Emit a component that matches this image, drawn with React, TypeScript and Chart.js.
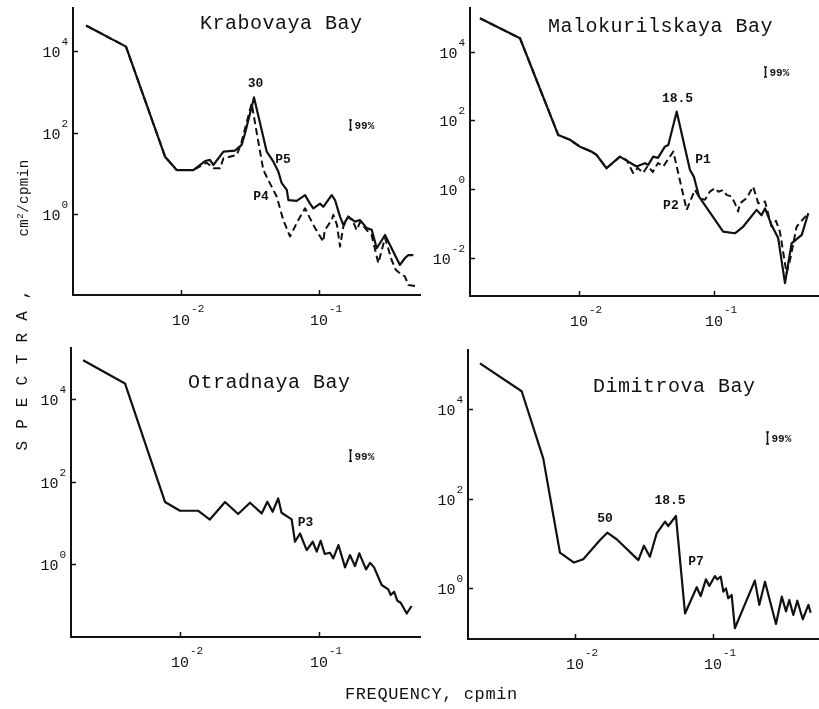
import React, { useEffect, useRef } from "react";
import { Chart, registerables } from "chart.js";

Chart.register(...registerables);

// ---------------- DATA ----------------
// Krabovaya Bay
const krabFreqP5 = [0.00205, 0.00399, 0.00766, 0.0093, 0.01227, 0.01494, 0.0162, 0.01714, 0.0203, 0.0246, 0.0275, 0.0291, 0.0338, 0.0374, 0.0418, 0.0467, 0.0507, 0.0537, 0.0584, 0.060, 0.0689, 0.0792, 0.0861, 0.091, 0.1017, 0.1074, 0.1236, 0.1306, 0.142, 0.150, 0.163, 0.182, 0.198, 0.222, 0.241, 0.262, 0.277, 0.301, 0.327, 0.355, 0.386, 0.42, 0.444, 0.483];
const krabSpecP5 = [42600, 12900, 25.6, 12.0, 12.0, 20.0, 21.3, 16.0, 34, 36, 50, 96, 730, 170, 34, 19.3, 11, 5.7, 3.9, 2.2, 2.1, 2.9, 1.8, 1.38, 1.8, 1.5, 2.9, 2.2, 0.86, 0.54, 0.86, 0.65, 0.71, 0.45, 0.41, 0.144, 0.194, 0.305, 0.174, 0.098, 0.056, 0.083, 0.098, 0.098];
const krabFreqP4 = [0.00205, 0.00399, 0.00766, 0.0093, 0.01227, 0.01535, 0.01714, 0.0192, 0.0203, 0.0254, 0.0275, 0.0325, 0.0363, 0.0395, 0.0429, 0.0493, 0.0551, 0.0616, 0.0708, 0.0792, 0.0861, 0.0936, 0.1074, 0.110, 0.1236, 0.127, 0.135, 0.142, 0.150, 0.163, 0.177, 0.188, 0.198, 0.222, 0.241, 0.269, 0.301, 0.336, 0.361, 0.386, 0.42, 0.444, 0.497];
const krabSpecP4 = [42600, 12900, 25.6, 12.0, 12.0, 18.2, 13.3, 13.3, 23.4, 28.2, 60, 520, 60, 12, 6.8, 2.7, 0.71, 0.28, 0.71, 1.38, 0.78, 0.45, 0.21, 0.40, 0.71, 0.95, 0.54, 0.158, 0.49, 0.86, 0.63, 0.40, 0.63, 0.40, 0.30, 0.062, 0.26, 0.074, 0.042, 0.035, 0.029, 0.018, 0.017];

// Malokurilskaya Bay
const maloFreqP1 = [0.00185, 0.00366, 0.00703, 0.00858, 0.01017, 0.0124, 0.0135, 0.016, 0.0201, 0.0267, 0.0308, 0.0326, 0.0355, 0.0385, 0.0433, 0.0459, 0.053, 0.0664, 0.0712, 0.0775, 0.117, 0.143, 0.165, 0.207, 0.225, 0.239, 0.267, 0.299, 0.336, 0.376, 0.447, 0.50];
const maloSpecP1 = [93000, 24500, 37, 27, 17, 12.2, 9.8, 4.0, 8.7, 4.5, 5.6, 5.0, 8.7, 8.0, 17, 19, 178, 3.6, 2.2, 0.60, 0.057, 0.051, 0.080, 0.245, 0.17, 0.27, 0.089, 0.037, 0.0018, 0.026, 0.046, 0.195];
const maloFreqP2 = [0.00185, 0.00366, 0.00703, 0.00858, 0.01017, 0.0124, 0.0135, 0.016, 0.0201, 0.0225, 0.0252, 0.0273, 0.0298, 0.0324, 0.0353, 0.0385, 0.0421, 0.050, 0.0628, 0.0723, 0.0787, 0.0857, 0.0933, 0.1017, 0.1076, 0.117, 0.124, 0.135, 0.143, 0.151, 0.156, 0.175, 0.195, 0.213, 0.239, 0.267, 0.288, 0.308, 0.345, 0.366, 0.41, 0.50];
const maloSpecP2 = [93000, 24500, 37, 27, 17, 12.2, 9.8, 4.0, 8.7, 7.0, 2.9, 4.1, 2.9, 4.7, 3.1, 5.7, 4.5, 12.2, 0.245, 0.94, 0.54, 0.48, 0.83, 1.05, 0.83, 0.93, 0.67, 0.60, 0.38, 0.22, 0.38, 0.54, 1.17, 0.38, 0.43, 0.080, 0.117, 0.057, 0.0035, 0.0085, 0.080, 0.195];

// Otradnaya Bay
const otraFreqP3 = [0.00201, 0.00402, 0.0078, 0.0100, 0.01355, 0.0164, 0.0211, 0.0262, 0.0319, 0.0387, 0.0425, 0.0464, 0.0509, 0.0538, 0.0636, 0.0672, 0.0730, 0.0816, 0.0902, 0.0963, 0.1028, 0.110, 0.120, 0.1267, 0.138, 0.154, 0.167, 0.1815, 0.195, 0.218, 0.233, 0.249, 0.2825, 0.315, 0.328, 0.347, 0.366, 0.387, 0.428, 0.464];
const otraSpecP3 = [88000, 24000, 32, 19.6, 19.6, 12, 32, 16.3, 30.7, 16.9, 32.4, 18.5, 39, 17.5, 12.1, 3.47, 5.5, 2.18, 3.47, 1.99, 3.67, 1.75, 1.88, 1.37, 2.89, 0.83, 1.65, 0.89, 1.82, 0.74, 1.07, 0.83, 0.31, 0.243, 0.177, 0.213, 0.129, 0.115, 0.063, 0.096];

// Dimitrova Bay
const dimiFreqP7 = [0.00205, 0.00411, 0.00589, 0.00778, 0.00984, 0.01148, 0.0152, 0.01714, 0.02004, 0.0288, 0.0316, 0.0349, 0.0391, 0.0449, 0.0474, 0.0539, 0.0627, 0.0762, 0.0814, 0.0889, 0.0940, 0.1033, 0.1074, 0.1137, 0.1188, 0.1242, 0.129, 0.1365, 0.144, 0.201, 0.2165, 0.238, 0.286, 0.315, 0.338, 0.357, 0.382, 0.408, 0.447, 0.491, 0.510];
const dimiSpecP7 = [105000, 25000, 790, 6.2, 3.7, 4.4, 11.8, 17.2, 12.3, 4.2, 8.8, 5.0, 16.7, 30.4, 24.3, 40.6, 0.27, 1.04, 0.66, 1.56, 1.11, 1.85, 1.56, 1.79, 0.83, 0.98, 0.59, 0.70, 0.126, 1.46, 0.42, 1.38, 0.157, 0.64, 0.30, 0.54, 0.25, 0.52, 0.20, 0.42, 0.28];

// tick values
const xTickValues = [0.01, 0.1];
const yTickValuesA = [1, 100, 10000];
const yTickValuesB = [0.01, 1, 100, 10000];

// titles and labels
const titles = ["Krabovaya Bay", "Malokurilskaya Bay", "Otradnaya Bay", "Dimitrova Bay"];
const confText = "99%";

// ---------------- STYLE ----------------
const INK = "#111";
const MONO = '"Liberation Mono", "DejaVu Sans Mono", monospace';

type Series = { freq: number[]; spec: number[]; dashed?: boolean };
type Note = { text: string; x: number; y: number };
type PanelCfg = {
  left: number; top: number; w: number; h: number;
  yw: number; xh: number; padTop: number; padRight: number;
  xMin: number; xMax: number; yMin: number; yMax: number;
  yTicks: number[];
  series: Series[];
  title: Note;
  notes: Note[];
  conf: { x: number; y1: number; y2: number };
};

const panels: PanelCfg[] = [
  {
    left: 0, top: 0, w: 425, h: 330, yw: 73, xh: 35, padTop: 8, padRight: 5,
    xMin: 0.001648, xMax: 0.5395, yMin: 0.01023, yMax: 114800,
    yTicks: yTickValuesA,
    series: [
      { freq: krabFreqP5, spec: krabSpecP5 },
      { freq: krabFreqP4, spec: krabSpecP4, dashed: true },
    ],
    title: { text: titles[0], x: 0.01374, y: 35100 },
    notes: [
      { text: "30", x: 0.0347, y: 1318 },
      { text: "P5", x: 0.0548, y: 17.9 },
      { text: "P4", x: 0.038, y: 2.21 },
    ],
    conf: { x: 0.168, y1: 116, y2: 204 },
  },
  {
    left: 425, top: 0, w: 394, h: 330, yw: 45, xh: 34, padTop: 8, padRight: 0,
    xMin: 0.00156, xMax: 0.600, yMin: 0.000759, yMax: 186200,
    yTicks: yTickValuesB,
    series: [
      { freq: maloFreqP1, spec: maloSpecP1 },
      { freq: maloFreqP2, spec: maloSpecP2, dashed: true },
    ],
    title: { text: titles[1], x: 0.00589, y: 37400 },
    notes: [
      { text: "18.5", x: 0.0537, y: 342 },
      { text: "P1", x: 0.083, y: 5.7 },
      { text: "P2", x: 0.048, y: 0.261 },
    ],
    conf: { x: 0.239, y1: 1830, y2: 3560 },
  },
  {
    left: 0, top: 330, w: 425, h: 379, yw: 71, xh: 72, padTop: 18, padRight: 5,
    xMin: 0.001644, xMax: 0.533, yMin: 0.01698, yMax: 173800,
    yTicks: yTickValuesA,
    series: [{ freq: otraFreqP3, spec: otraSpecP3 }],
    title: { text: titles[2], x: 0.01142, y: 18500 },
    notes: [{ text: "P3", x: 0.080, y: 8.3 }],
    conf: { x: 0.167, y1: 313, y2: 580 },
  },
  {
    left: 425, top: 330, w: 394, h: 379, yw: 43, xh: 70, padTop: 20, padRight: 0,
    xMin: 0.001679, xMax: 0.586, yMin: 0.0724, yMax: 208900,
    yTicks: yTickValuesA,
    series: [{ freq: dimiFreqP7, spec: dimiSpecP7 }],
    title: { text: titles[3], x: 0.01349, y: 24000 },
    notes: [
      { text: "50", x: 0.0165, y: 29.9 },
      { text: "18.5", x: 0.0488, y: 75 },
      { text: "P7", x: 0.0753, y: 3.27 },
    ],
    conf: { x: 0.245, y1: 1650, y2: 3080 },
  },
];

// ---------------- PLUGIN ----------------
const decorPlugin = {
  id: "decor",
  afterDraw(chart: any, _args: any, opts: any) {
    const cfg: PanelCfg = opts.cfg;
    if (!cfg) return;
    const { ctx, chartArea } = chart;
    const xs = chart.scales.x;
    const ys = chart.scales.y;
    ctx.save();
    ctx.fillStyle = INK;
    ctx.strokeStyle = INK;
    ctx.lineWidth = 1.5;
    // tick marks (inward)
    for (const v of cfg.yTicks) {
      const py = Math.round(ys.getPixelForValue(v)) + 0.5;
      ctx.beginPath();
      ctx.moveTo(chartArea.left, py);
      ctx.lineTo(chartArea.left + 5, py);
      ctx.stroke();
    }
    for (const v of xTickValues) {
      const px = Math.round(xs.getPixelForValue(v)) + 0.5;
      ctx.beginPath();
      ctx.moveTo(px, chartArea.bottom);
      ctx.lineTo(px, chartArea.bottom - 5);
      ctx.stroke();
    }
    const baseFont = `15px ${MONO}`;
    const expFont = `11px ${MONO}`;
    ctx.textBaseline = "alphabetic";
    ctx.textAlign = "left";
    // y tick labels
    for (const v of cfg.yTicks) {
      const e = String(Math.round(Math.log10(v)));
      const py = ys.getPixelForValue(v);
      ctx.font = expFont;
      const w2 = ctx.measureText(e).width;
      ctx.font = baseFont;
      const w1 = ctx.measureText("10").width;
      const right = chartArea.left - 5;
      ctx.fillText("10", right - w2 - 1 - w1, py + 6);
      ctx.font = expFont;
      ctx.fillText(e, right - w2, py - 6);
    }
    // x tick labels
    for (const v of xTickValues) {
      const e = String(Math.round(Math.log10(v)));
      const px = xs.getPixelForValue(v);
      ctx.font = baseFont;
      const w1 = ctx.measureText("10").width;
      ctx.fillText("10", px - w1 / 2, chartArea.bottom + 30);
      ctx.font = expFont;
      ctx.fillText(e, px + w1 / 2 + 1, chartArea.bottom + 17);
    }
    // title
    ctx.font = `20px ${MONO}`;
    (ctx as any).letterSpacing = "0.5px";
    ctx.textAlign = "left";
    ctx.fillText(cfg.title.text, xs.getPixelForValue(cfg.title.x), ys.getPixelForValue(cfg.title.y));
    (ctx as any).letterSpacing = "0px";
    // peak / series labels
    ctx.font = `bold 13px ${MONO}`;
    ctx.textAlign = "center";
    for (const n of cfg.notes) {
      ctx.fillText(n.text, xs.getPixelForValue(n.x), ys.getPixelForValue(n.y));
    }
    // 99% confidence bar
    const cx = Math.round(xs.getPixelForValue(cfg.conf.x)) + 0.5;
    const cy1 = ys.getPixelForValue(cfg.conf.y1);
    const cy2 = ys.getPixelForValue(cfg.conf.y2);
    ctx.lineWidth = 1.5;
    ctx.beginPath();
    ctx.moveTo(cx, cy1);
    ctx.lineTo(cx, cy2);
    ctx.moveTo(cx - 1.5, cy1);
    ctx.lineTo(cx + 1.5, cy1);
    ctx.moveTo(cx - 1.5, cy2);
    ctx.lineTo(cx + 1.5, cy2);
    ctx.stroke();
    ctx.font = `bold 11px ${MONO}`;
    ctx.textAlign = "left";
    ctx.fillText(confText, cx + 4, (cy1 + cy2) / 2 + 4);
    ctx.restore();
  },
};

function Panel({ cfg }: { cfg: PanelCfg }) {
  const ref = useRef<HTMLCanvasElement>(null);
  useEffect(() => {
    const datasets = cfg.series.map((s) => ({
      data: s.freq.map((f, i) => ({ x: f, y: s.spec[i] })),
      borderColor: INK,
      borderWidth: s.dashed ? 2 : 2.2,
      borderDash: s.dashed ? [7, 4] : [],
      borderJoinStyle: "round" as const,
      pointRadius: 0,
      fill: false,
      tension: 0,
    }));
    const chart = new Chart(ref.current!, {
      type: "line",
      data: { datasets },
      plugins: [decorPlugin],
      options: {
        responsive: false,
        animation: false,
        devicePixelRatio: 1,
        layout: { padding: { top: cfg.padTop, right: cfg.padRight, left: 0, bottom: 0 } },
        plugins: {
          legend: { display: false },
          tooltip: { enabled: false },
          title: { display: false },
          decor: { cfg },
        } as any,
        scales: {
          x: {
            type: "logarithmic",
            min: cfg.xMin,
            max: cfg.xMax,
            grid: { display: false },
            border: { display: true, color: INK, width: 2 },
            ticks: { display: false },
            afterFit: (s: any) => { s.height = cfg.xh; },
          },
          y: {
            type: "logarithmic",
            min: cfg.yMin,
            max: cfg.yMax,
            grid: { display: false },
            border: { display: true, color: INK, width: 2 },
            ticks: { display: false },
            afterFit: (s: any) => { s.width = cfg.yw; },
          },
        },
      } as any,
    });
    return () => chart.destroy();
  }, [cfg]);
  return (
    <canvas
      ref={ref}
      width={cfg.w}
      height={cfg.h}
      style={{ position: "absolute", left: cfg.left, top: cfg.top, width: cfg.w, height: cfg.h }}
    />
  );
}

export default function App() {
  const rot: React.CSSProperties = {
    position: "absolute",
    transform: "translate(-50%, -50%) rotate(-90deg)",
    whiteSpace: "nowrap",
    fontFamily: MONO,
    color: INK,
    lineHeight: 1,
  };
  return (
    <div style={{ position: "absolute", left: 0, top: 0, width: 819, height: 709, background: "#fff", overflow: "hidden" }}>
      {panels.map((p, i) => (
        <Panel key={i} cfg={p} />
      ))}
      <div style={{ ...rot, left: 23, top: 364, fontSize: 16, letterSpacing: "12px" }}>SPECTRA,</div>
      <div style={{ ...rot, left: 24, top: 198, fontSize: 14, letterSpacing: "0.5px" }}>
        cm<sup style={{ fontSize: 9 }}>2</sup>/cpmin
      </div>
      <div
        style={{
          position: "absolute",
          left: 345,
          top: 686,
          fontFamily: MONO,
          fontSize: 17,
          letterSpacing: "0.6px",
          color: INK,
          lineHeight: 1,
          whiteSpace: "nowrap",
        }}
      >
        FREQUENCY, cpmin
      </div>
    </div>
  );
}
